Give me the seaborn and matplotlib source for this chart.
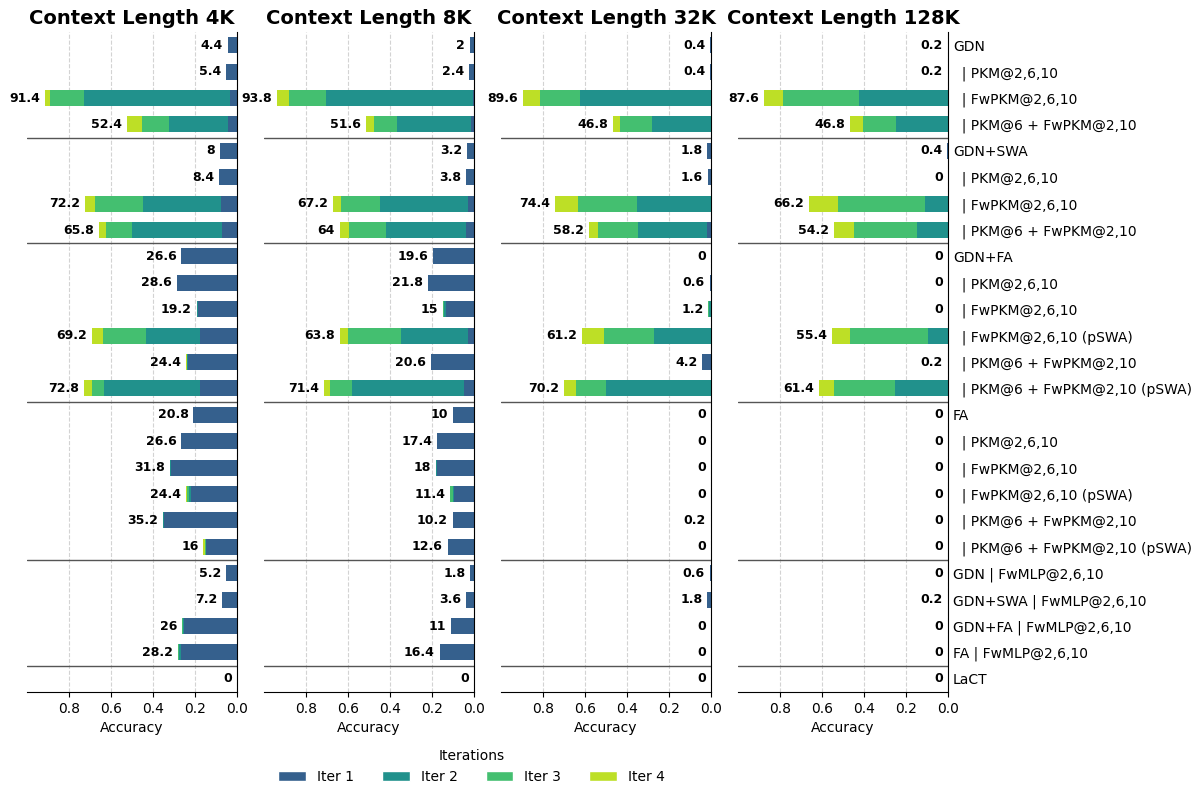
import matplotlib
matplotlib.use("Agg")
import matplotlib.pyplot as plt
from matplotlib.patches import Patch
import pandas as pd
import seaborn as sns

row_labels = [
    "GDN", "  | PKM@2,6,10", "  | FwPKM@2,6,10", "  | PKM@6 + FwPKM@2,10",
    "GDN+SWA", "  | PKM@2,6,10", "  | FwPKM@2,6,10", "  | PKM@6 + FwPKM@2,10",
    "GDN+FA", "  | PKM@2,6,10", "  | FwPKM@2,6,10", "  | FwPKM@2,6,10 (pSWA)",
    "  | PKM@6 + FwPKM@2,10", "  | PKM@6 + FwPKM@2,10 (pSWA)",
    "FA", "  | PKM@2,6,10", "  | FwPKM@2,6,10", "  | FwPKM@2,6,10 (pSWA)",
    "  | PKM@6 + FwPKM@2,10", "  | PKM@6 + FwPKM@2,10 (pSWA)",
    "GDN | FwMLP@2,6,10", "GDN+SWA | FwMLP@2,6,10", "GDN+FA | FwMLP@2,6,10",
    "FA | FwMLP@2,6,10", "LaCT",
]
contexts = ["4K", "8K", "32K", "128K"]
iter_names = ["Iter 1", "Iter 2", "Iter 3", "Iter 4"]
iter_colors = ["#35608d", "#21918c", "#44bf70", "#bddf26"]
separators = [3.5, 7.5, 13.5, 19.5, 23.5]

# accuracy (%) reached after each iteration
acc_4k_iter1 = [4.4, 5.4, 3.2, 4.2, 8, 8.4, 7.8, 7.0, 26.6, 28.6, 18.8, 17.6, 23.2, 17.6,
                20.8, 26.6, 31.4, 22.0, 34.8, 14.8, 5.2, 7.2, 25.2, 26.8, 0]
acc_4k_iter2 = [4.4, 5.4, 72.9, 32.4, 8, 8.4, 44.9, 50.0, 26.6, 28.6, 19.0, 43.5, 23.8, 63.2,
                20.8, 26.6, 31.8, 23.0, 35.2, 14.8, 5.2, 7.2, 25.6, 27.4, 0]
acc_4k_iter3 = [4.4, 5.4, 89.0, 45.1, 8, 8.4, 67.8, 62.2, 26.6, 28.6, 19.2, 64.0, 24.0, 69.0,
                20.8, 26.6, 31.8, 24.0, 35.2, 15.4, 5.2, 7.2, 26.0, 28.0, 0]
acc_4k_iter4 = [4.4, 5.4, 91.4, 52.4, 8, 8.4, 72.2, 65.8, 26.6, 28.6, 19.2, 69.2, 24.4, 72.8,
                20.8, 26.6, 31.8, 24.4, 35.2, 16, 5.2, 7.2, 26, 28.2, 0]

acc_8k_iter1 = [2, 2.4, 0.4, 1.2, 3.2, 3.8, 3.0, 3.8, 19.6, 21.8, 13.2, 2.8, 20.4, 4.8,
                10, 17.4, 17.6, 9.4, 10.2, 12.2, 1.8, 3.6, 11, 16.4, 0]
acc_8k_iter2 = [2, 2.4, 70.6, 36.8, 3.2, 3.8, 44.9, 42.0, 19.6, 21.8, 14.2, 34.9, 20.6, 58.2,
                10, 17.4, 18, 10.2, 10.2, 12.4, 1.8, 3.6, 11, 16.4, 0]
acc_8k_iter3 = [2, 2.4, 88.1, 47.6, 3.2, 3.8, 63.2, 59.4, 19.6, 21.8, 14.8, 60.1, 20.6, 68.4,
                10, 17.4, 18, 11.2, 10.2, 12.6, 1.8, 3.6, 11, 16.4, 0]
acc_8k_iter4 = [2, 2.4, 93.8, 51.6, 3.2, 3.8, 67.2, 64, 19.6, 21.8, 15, 63.8, 20.6, 71.4,
                10, 17.4, 18, 11.4, 10.2, 12.6, 1.8, 3.6, 11, 16.4, 0]

acc_32k_iter1 = [0.4, 0.4, 0, 0, 1.8, 1.6, 0, 1.8, 0, 0.6, 0, 0, 4.2, 0,
                 0, 0, 0, 0, 0.2, 0, 0.6, 1.8, 0, 0, 0]
acc_32k_iter2 = [0.4, 0.4, 62.4, 28.1, 1.8, 1.6, 35.2, 34.8, 0, 0.6, 1.0, 27.0, 4.2, 49.8,
                 0, 0, 0, 0, 0.2, 0, 0.6, 1.8, 0, 0, 0]
acc_32k_iter3 = [0.4, 0.4, 81.4, 43.3, 1.8, 1.6, 63.5, 53.6, 0, 0.6, 1.2, 51.1, 4.2, 64.3,
                 0, 0, 0, 0, 0.2, 0, 0.6, 1.8, 0, 0, 0]
acc_32k_iter4 = [0.4, 0.4, 89.6, 46.8, 1.8, 1.6, 74.4, 58.2, 0, 0.6, 1.2, 61.2, 4.2, 70.2,
                 0, 0, 0, 0, 0.2, 0, 0.6, 1.8, 0, 0, 0]

acc_128k_iter1 = [0.2, 0.2, 0, 0, 0.4, 0, 0, 0, 0, 0, 0, 0, 0.2, 0,
                  0, 0, 0, 0, 0, 0, 0, 0.2, 0, 0, 0]
acc_128k_iter2 = [0.2, 0.2, 42.4, 24.8, 0.4, 0, 11.1, 14.6, 0, 0, 0, 9.5, 0.2, 25.1,
                  0, 0, 0, 0, 0, 0, 0, 0.2, 0, 0, 0]
acc_128k_iter3 = [0.2, 0.2, 78.8, 40.5, 0.4, 0, 52.4, 45.0, 0, 0, 0, 46.7, 0.2, 54.1,
                  0, 0, 0, 0, 0, 0, 0, 0.2, 0, 0, 0]
acc_128k_iter4 = [0.2, 0.2, 87.6, 46.8, 0.4, 0, 66.2, 54.2, 0, 0, 0, 55.4, 0.2, 61.4,
                  0, 0, 0, 0, 0, 0, 0, 0.2, 0, 0, 0]

panel_data = {
    "4K": [acc_4k_iter1, acc_4k_iter2, acc_4k_iter3, acc_4k_iter4],
    "8K": [acc_8k_iter1, acc_8k_iter2, acc_8k_iter3, acc_8k_iter4],
    "32K": [acc_32k_iter1, acc_32k_iter2, acc_32k_iter3, acc_32k_iter4],
    "128K": [acc_128k_iter1, acc_128k_iter2, acc_128k_iter3, acc_128k_iter4],
}

sns.set_style("ticks")
plt.rcParams["font.family"] = ["DejaVu Sans"]
plt.rcParams.update({
    "text.color": "black", "axes.labelcolor": "black",
    "xtick.color": "black", "ytick.color": "black",
    "axes.edgecolor": "black", "axes.titlecolor": "black",
})

W, H = 1200, 799
fig = plt.figure(figsize=(W / 100, H / 100), dpi=100)
lefts = [27, 264, 501, 738]
row_ids = [f"r{i:02d}" for i in range(len(row_labels))]
palette = dict(zip(iter_names, iter_colors))

for k, ctx in enumerate(contexts):
    ax = fig.add_axes([lefts[k] / W, 1 - 692 / H, 210 / W, 660 / H])
    recs = []
    for name, vals in zip(iter_names, panel_data[ctx]):
        for rid, v in zip(row_ids, vals):
            recs.append({"row": rid, "iter": name, "acc": v / 100.0})
    df = pd.DataFrame(recs)
    sns.barplot(data=df, y="row", x="acc", hue="iter", order=row_ids,
                hue_order=iter_names[::-1], palette=palette, dodge=False,
                width=0.6, saturation=1, errorbar=None, orient="h",
                legend=False, ax=ax, zorder=3, linewidth=0, edgecolor="none")
    ax.set_xlim(1.0, 0.0)
    ax.set_ylim(len(row_ids) - 0.5, -0.5)
    ax.set_xticks([0.8, 0.6, 0.4, 0.2, 0.0])
    ax.set_xticklabels(["0.8", "0.6", "0.4", "0.2", "0.0"])
    ax.tick_params(axis="x", labelsize=10)
    ax.xaxis.grid(True, linestyle="--", color="#d3d3d3", linewidth=0.8, zorder=0)
    ax.set_axisbelow(True)
    for s in separators:
        ax.axhline(s, color="#555555", linewidth=1.0, zorder=4)
    ax.spines["left"].set_visible(False)
    ax.spines["top"].set_visible(False)
    ax.spines["right"].set_visible(True)
    ax.spines["right"].set_zorder(5)
    ax.set_xlabel("Accuracy", fontsize=10)
    ax.set_ylabel("")
    ax.set_title(f"Context Length {ctx}", fontsize=14, fontweight="bold")
    totals = panel_data[ctx][3]
    for i, v in enumerate(totals):
        ax.annotate(f"{v:g}", xy=(v / 100.0, i), xytext=(-3.5, 0),
                    textcoords="offset points", ha="right", va="center",
                    fontsize=9, fontweight="bold", color="black", zorder=6)
    if k == len(contexts) - 1:
        ax.yaxis.tick_right()
        ax.set_yticks(range(len(row_labels)))
        ax.set_yticklabels(row_labels)
        ax.tick_params(axis="y", length=0, labelsize=10, left=False, right=False)
    else:
        ax.set_yticks([])

handles = [Patch(facecolor=c, label=n) for n, c in zip(iter_names, iter_colors)]
fig.legend(handles=handles, loc="upper center", bbox_to_anchor=(0.393, 0.078),
           ncol=4, frameon=False, title="Iterations", fontsize=10, title_fontsize=10)

fig.savefig("out.png", dpi=100)
